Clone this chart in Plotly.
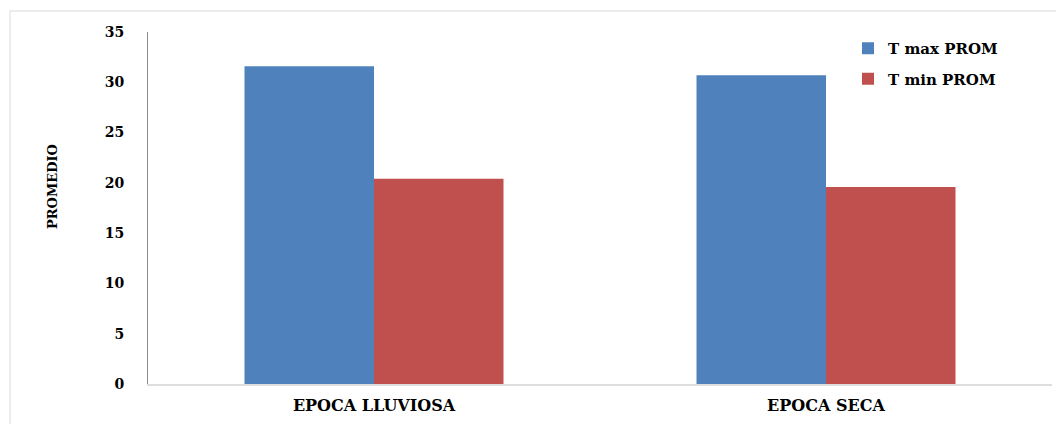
import plotly.graph_objects as go

# Seasonal averages of daily max/min temperature
epocas = ["EPOCA LLUVIOSA", "EPOCA SECA"]
t_max_prom = [31.6, 30.7]
t_min_prom = [20.4, 19.6]
y_ticks = [0, 5, 10, 15, 20, 25, 30, 35]

FONT = "DejaVu Serif"
W, H = 1056, 424
M_L, M_R, M_T, M_B = 148, 4, 32, 40
PW = W - M_L - M_R
PH = H - M_T - M_B

fig = go.Figure()
fig.add_trace(go.Bar(
    x=epocas, y=t_max_prom, name="<b>T max PROM</b>",
    marker=dict(color="#4F81BD", line=dict(width=0)),
    legendgroup="max",
))
fig.add_trace(go.Bar(
    x=epocas, y=t_min_prom, name="<b>T min PROM</b>",
    marker=dict(color="#C0504D", line=dict(width=0)),
    legendgroup="min",
))

fig.update_layout(
    width=W, height=H,
    margin=dict(l=M_L, r=M_R, t=M_T, b=M_B),
    paper_bgcolor="white", plot_bgcolor="white",
    barmode="group", bargap=0.427, bargroupgap=0,
    font=dict(family=FONT, size=13, color="black"),
    showlegend=True,
    legend=dict(
        x=(848 - M_L) / PW, y=1 - (32 - M_T) / PH,
        xanchor="left", yanchor="top",
        bgcolor="rgba(0,0,0,0)",
        font=dict(family=FONT, size=15, color="black"),
        tracegroupgap=8, itemwidth=30,
    ),
    xaxis=dict(
        type="category", range=[-0.5, 1.5],
        showline=True, linecolor="#dedede", linewidth=2,
        ticks="", showgrid=False, zeroline=False,
        tickfont=dict(family=FONT, size=16, color="black", weight="bold"),
        ticklabelstandoff=6,
    ),
    yaxis=dict(
        range=[0, 35], tickvals=y_ticks,
        showline=True, linecolor="#8c8c8c", linewidth=1,
        ticks="", showgrid=False, zeroline=False,
        tickfont=dict(family=FONT, size=14, color="black", weight="bold"),
        ticklabelstandoff=20,
    ),
    annotations=[dict(
        text="<b>PROMEDIO</b>", textangle=-90,
        xref="paper", yref="paper",
        x=(52 - M_L) / PW, y=(H - M_B - 187) / PH,
        xanchor="center", yanchor="middle", showarrow=False,
        font=dict(family=FONT, size=13, color="black"),
    )],
    shapes=[dict(
        type="rect", xref="paper", yref="paper",
        x0=(10 - M_L) / PW, x1=(1060 - M_L) / PW,
        y0=(H - M_B - 440) / PH, y1=(H - M_B - 11) / PH,
        line=dict(color="#d9d9d9", width=1), fillcolor="rgba(0,0,0,0)",
        layer="below",
    )],
)

fig.write_html("out.html")
